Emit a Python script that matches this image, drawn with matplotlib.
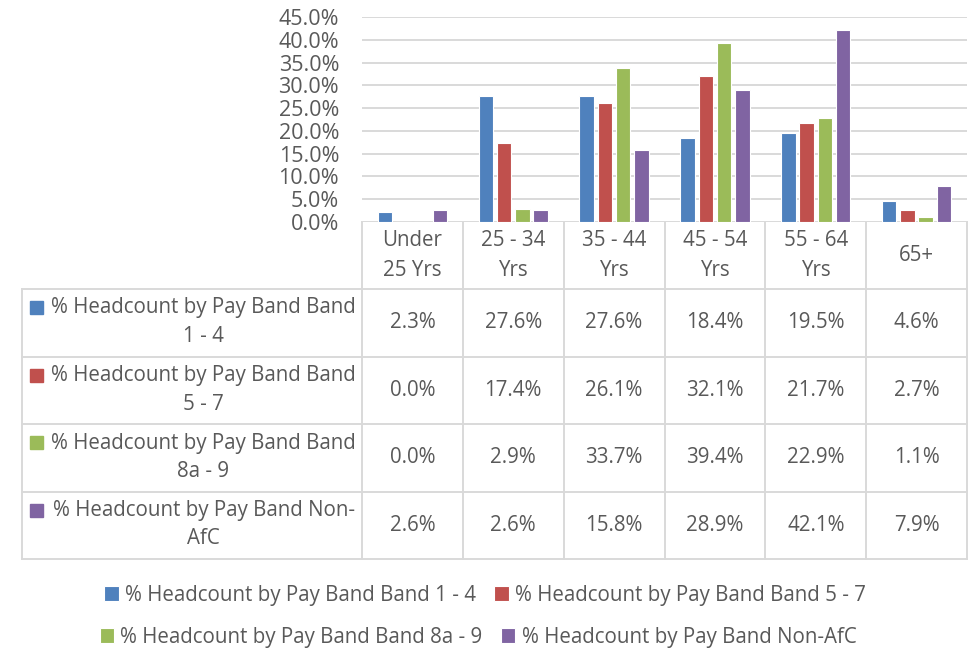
import matplotlib
matplotlib.use("Agg")
import matplotlib.pyplot as plt
import matplotlib.transforms as mtransforms
from matplotlib.patches import Rectangle
from matplotlib.ticker import PercentFormatter, MultipleLocator

plt.rcParams['font.family'] = ['Open Sans', 'DejaVu Sans']

# ---- data (percent) ----
age_groups = ['Under\n25 Yrs', '25 - 34\nYrs', '35 - 44\nYrs', '45 - 54\nYrs', '55 - 64\nYrs', '65+']
series_names = ['% Headcount by Pay Band Band 1 - 4',
                '% Headcount by Pay Band Band 5 - 7',
                '% Headcount by Pay Band Band 8a - 9',
                '% Headcount by Pay Band Non-AfC']
table_labels = ['% Headcount by Pay Band Band\n1 - 4',
                '% Headcount by Pay Band Band\n5 - 7',
                '% Headcount by Pay Band Band\n8a - 9',
                '% Headcount by Pay Band Non-\nAfC']
band_1_4 = [2.3, 27.6, 27.6, 18.4, 19.5, 4.6]
band_5_7 = [0.0, 17.4, 26.1, 32.1, 21.7, 2.7]
band_8a_9 = [0.0, 2.9, 33.7, 39.4, 22.9, 1.1]
non_afc = [2.6, 2.6, 15.8, 28.9, 42.1, 7.9]
series = [band_1_4, band_5_7, band_8a_9, non_afc]

colors = ['#4F81BD', '#C0504D', '#9BBB59', '#8064A2']
txt = '#595959'
grid = '#D9D9D9'
fs = 14.8

W, H = 972, 652
fig = plt.figure(figsize=(W / 100, H / 100), dpi=100)

# bar area, in pixel units of the reference
ax = fig.add_axes([362 / W, 1 - 222 / H, 605 / W, 205 / H])
n = len(series)
bw = 0.144
step = 0.181
bars = []
for i, vals in enumerate(series):
    x = [k + (i - (n - 1) / 2) * step for k in range(len(vals))]
    b = ax.bar(x, vals, width=bw, color=colors[i], edgecolor='white', linewidth=0.8,
               label=series_names[i])
    bars.append(b)

ax.set_xlim(-0.5, len(age_groups) - 0.5)
ax.set_ylim(0, 45)
ax.yaxis.set_major_locator(MultipleLocator(5))
ax.yaxis.set_major_formatter(PercentFormatter(xmax=100, decimals=1))
ax.yaxis.grid(True, color=grid, linewidth=1.4)
ax.set_axisbelow(True)
ax.set_xticks([])
ax.tick_params(axis='y', length=0, pad=16.5, labelsize=15.5, labelcolor=txt)
for s in ax.spines.values():
    s.set_visible(False)

# overlay for the data table (pixel coordinates, y down)
ov = fig.add_axes([0, 0, 1, 1], zorder=-1)
ov.set_xlim(0, W)
ov.set_ylim(H, 0)
ov.axis('off')
trans = mtransforms.blended_transform_factory(ax.transData, ov.transData)

head_top, head_bot = 222, 289
row_h = 67.5
rows_bot = head_bot + row_h * len(series)
left = 22

for k in range(len(age_groups) + 1):
    ov.plot([k - 0.5, k - 0.5], [head_top, rows_bot], color=grid, lw=1.4, transform=trans)
for r in range(len(series) + 1):
    y = head_bot + r * row_h
    ov.plot([left, 967], [y, y], color=grid, lw=1.4)
ov.plot([left, left], [head_bot, rows_bot], color=grid, lw=1.4)

# header labels
head_mid = (head_top + head_bot) / 2
for k, lab in enumerate(age_groups):
    lines = lab.split('\n')
    for j, line in enumerate(lines):
        y = head_mid + (j - (len(lines) - 1) / 2) * 29
        ov.text(k, y, line, transform=trans, ha='center', va='center', fontsize=fs, color=txt)

# rows
for r, vals in enumerate(series):
    top = head_bot + r * row_h
    ov.add_patch(Rectangle((30, top + 12), 13, 13, color=colors[r]))
    l1, l2 = table_labels[r].split('\n')
    ov.text(203.5, top + 19, l1, ha='center', va='center', fontsize=fs, color=txt)
    ov.text(203.5, top + 47.5, l2, ha='center', va='center', fontsize=fs, color=txt)
    for k, v in enumerate(vals):
        ov.text(k, top + row_h / 2, f'{v:.1f}%', transform=trans, ha='center', va='center',
                fontsize=fs, color=txt)

# legend: two rows, each centred
leg_kw = dict(loc='center', ncol=2, frameon=False, fontsize=fs, handlelength=0.7,
              handleheight=0.7, handletextpad=0.3, columnspacing=0.9, labelcolor=txt,
              borderpad=0, borderaxespad=0)
fig.legend(handles=bars[:2], labels=series_names[:2], bbox_to_anchor=(485 / W, 1 - 595 / H), **leg_kw)
fig.legend(handles=bars[2:], labels=series_names[2:], bbox_to_anchor=(478 / W, 1 - 637 / H), **leg_kw)

fig.savefig('out.png', dpi=100)
